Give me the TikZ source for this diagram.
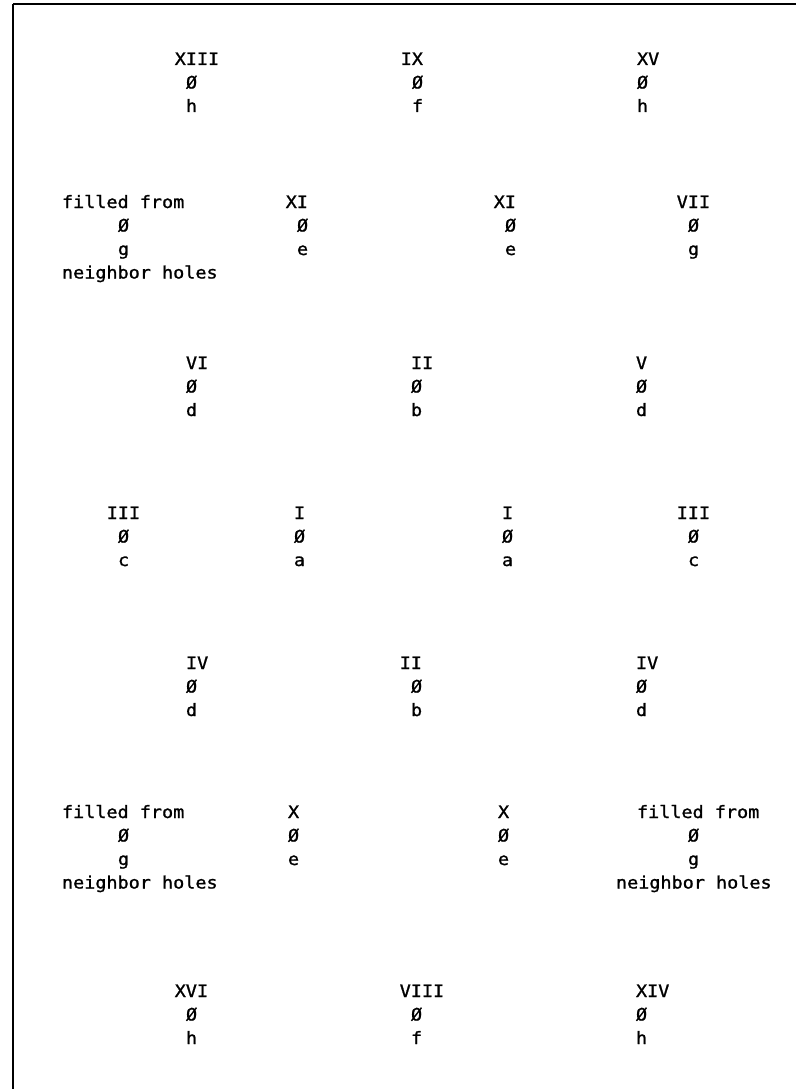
\documentclass[tikz,border=0pt]{standalone}
\usepackage{fontspec}
\newfontfamily\holefont[FakeStretch=1.08,FakeBold=1.2]{DejaVu Sans Mono}
\begin{document}
\begin{tikzpicture}[x=1pt,y=1pt,
  txt/.style={anchor=base west,inner sep=0pt,outer sep=0pt,font=\holefont\fontsize{17.1}{17.1}\selectfont},
  framebar/.style={line width=2.4pt},
  frametop/.style={line width=1.4pt}]
\def\cw{11.27}
\def\lp{23.5}
\useasboundingbox (0,0) rectangle (796,-1089);
% frame
\coordinate (tl) at (13,-4);
\coordinate (tr) at (796,-4);
\coordinate (bl) at (13,-1089);
\draw[frametop] (tl) -- (tr);
\draw[framebar] (tl) -- (bl);
% #1 name, #2 x of the zero-line, #3 baseline of first line, #4 label, #5 label shift in columns, #6 letter
\newcommand\holelabel[6]{%
  \node[txt] (#1-l) at ({#2-#5*\cw},{-#3}) {#4};
  \node[txt] (#1-o) at (#2,{-#3-\lp}) {Ø};
  \node[txt] (#1-c) at (#2,{-#3-2*\lp}) {#6};
}
\newcommand\filled[5]{% #1 name, #2 x of "filled from", #3 x of zero, #4 x of "neighbor holes", #5 baseline
  \node[txt] (#1-l) at (#2,{-#5}) {filled from};
  \node[txt] (#1-o) at (#3,{-#5-\lp}) {Ø};
  \node[txt] (#1-c) at (#3,{-#5-2*\lp}) {g};
  \node[txt] (#1-n) at (#4,{-#5-3*\lp}) {neighbor holes};
}
% row 1
\holelabel{r1a}{186}{65}{XIII}{1}{h}
\holelabel{r1b}{412}{65}{IX}{1}{f}
\holelabel{r1c}{637}{65}{XV}{0}{h}
% row 2
\filled{r2a}{62}{118}{62}{208}
\holelabel{r2b}{297}{208}{XI}{1}{e}
\holelabel{r2c}{505}{208}{XI}{1}{e}
\holelabel{r2d}{688}{208}{VII}{1}{g}
% row 3
\holelabel{r3a}{186}{369}{VI}{0}{d}
\holelabel{r3b}{411}{369}{II}{0}{b}
\holelabel{r3c}{636}{369}{V}{0}{d}
% row 4
\holelabel{r4a}{118}{519}{III}{1}{c}
\holelabel{r4b}{294}{519}{I}{0}{a}
\holelabel{r4c}{502}{519}{I}{0}{a}
\holelabel{r4d}{688}{519}{III}{1}{c}
% row 5
\holelabel{r5a}{186}{669}{IV}{0}{d}
\holelabel{r5b}{411}{669}{II}{1}{b}
\holelabel{r5c}{636}{669}{IV}{0}{d}
% row 6
\filled{r6a}{62}{118}{62}{818}
\holelabel{r6b}{288}{818}{X}{0}{e}
\holelabel{r6c}{498}{818}{X}{0}{e}
\filled{r6d}{637}{688}{616}{818}
% row 7
\holelabel{r7a}{186}{997}{XVI}{1}{h}
\holelabel{r7b}{411}{997}{VIII}{1}{f}
\holelabel{r7c}{636}{997}{XIV}{0}{h}
\end{tikzpicture}
\end{document}
